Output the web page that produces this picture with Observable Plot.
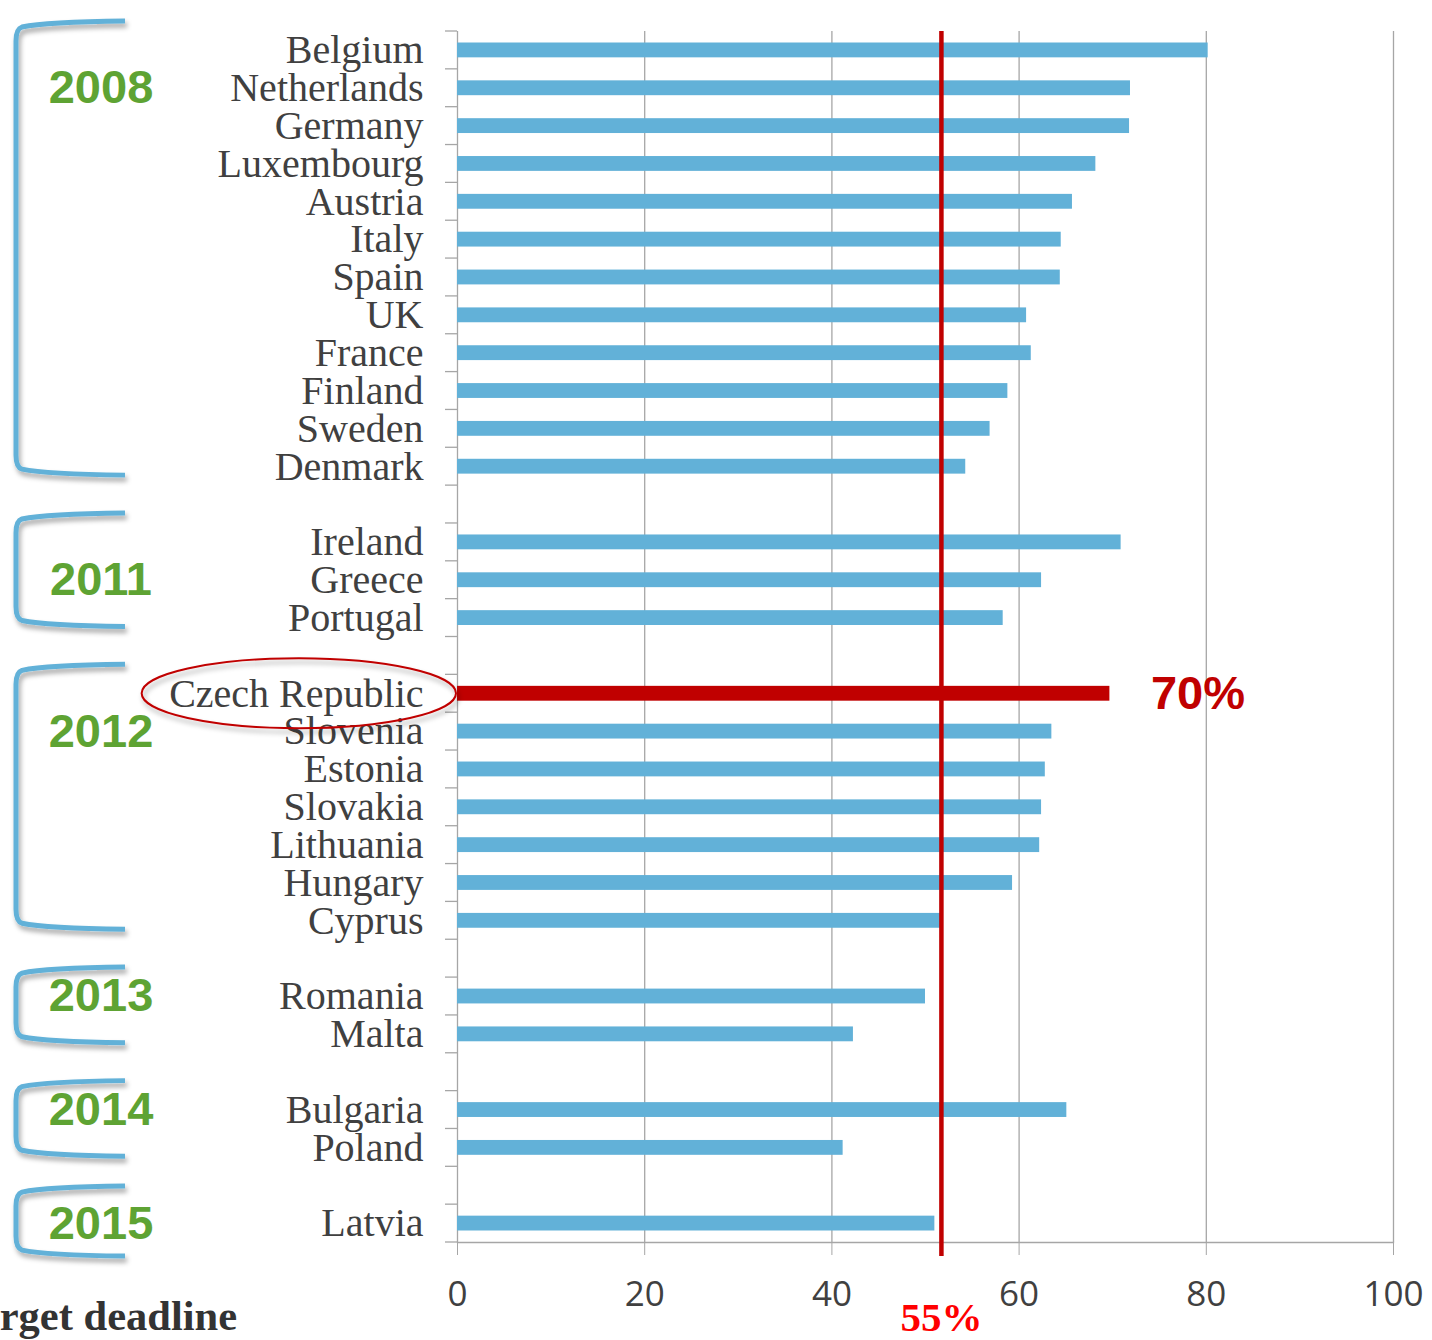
<!DOCTYPE html>
<html>
<head>
<meta charset="utf-8">
<script src="https://cdn.jsdelivr.net/npm/d3@7"></script>
<script src="https://cdn.jsdelivr.net/npm/@observablehq/plot@0.6"></script>
<style>
  html, body { margin: 0; padding: 0; background: #fff; }
  #chart { width: 1432px; height: 1340px; overflow: hidden; }
</style>
</head>
<body>
<div id="chart"></div>
<script>
// ---- Data ----
const countries = [
  "Belgium","Netherlands","Germany","Luxembourg","Austria","Italy","Spain","UK","France","Finland","Sweden","Denmark",
  "Ireland","Greece","Portugal",
  "Czech Republic","Slovenia","Estonia","Slovakia","Lithuania","Hungary","Cyprus",
  "Romania","Malta",
  "Bulgaria","Poland",
  "Latvia"
];
const shares = [
  80.2, 71.9, 71.8, 68.2, 65.7, 64.5, 64.4, 60.8, 61.3, 58.8, 56.9, 54.3,
  70.9, 62.4, 58.3,
  69.7, 63.5, 62.8, 62.4, 62.2, 59.3, 51.8,
  50.0, 42.3,
  65.1, 41.2,
  51.0
];
const deadlines = [
  2008,2008,2008,2008,2008,2008,2008,2008,2008,2008,2008,2008,
  2011,2011,2011,
  2012,2012,2012,2012,2012,2012,2012,
  2013,2013,
  2014,2014,
  2015
];
const years = [2008, 2011, 2012, 2013, 2014, 2015];
const xTicks = [0, 20, 40, 60, 80, 100];
const highlightCountry = "Czech Republic";
const highlightLabel = "70%";
const targetValue = 51.7;
const targetLabel = "55%";
const footLabel = "Target deadline";

// ---- Build table and row slots (blank row between deadline groups) ----
const data = countries.map((c, i) => ({country: c, share: shares[i], year: deadlines[i]}));
const slots = [];
years.forEach((yr, gi) => {
  data.filter(d => d.year === yr).forEach(d => slots.push(d.country));
  if (gi < years.length - 1) slots.push("gap-" + yr);
});

const blue = "#62B1D8";
const red = "#C00000";
const grey = "#a6a6a6";
const textGrey = "#404040";

const chart = Plot.plot({
  width: 1432,
  height: 1340,
  marginLeft: 457,
  marginRight: 39,
  marginTop: 31,
  marginBottom: 98,
  style: {background: "#fff"},
  x: {domain: [0, 100]},
  y: {domain: slots, padding: 0, round: false},
  marks: [
    Plot.gridX(xTicks, {stroke: grey, strokeOpacity: 1, strokeWidth: 1.3}),
    Plot.frame({anchor: "bottom", stroke: grey, strokeWidth: 1.3}),
    Plot.barX(data, {
      y: "country", x: "share",
      fill: d => d.country === highlightCountry ? red : blue,
      insetTop: 11.5, insetBottom: 11.5
    }),
    Plot.ruleX([targetValue], {stroke: red, strokeWidth: 4.5, insetBottom: -14}),
    Plot.text(data.filter(d => d.country === highlightCountry), {
      x: "share", y: "country", text: () => highlightLabel,
      dx: 41, textAnchor: "start", fill: red,
      fontSize: 47, fontWeight: "bold", fontFamily: "Liberation Sans, Arial, sans-serif"
    }),
    Plot.text([targetValue], {
      x: d => d, frameAnchor: "bottom", text: () => targetLabel,
      dy: 88, fill: "#FF0000", lineAnchor: "bottom",
      fontSize: 41, fontWeight: "bold", fontFamily: "Liberation Serif, Times New Roman, serif"
    }),
    Plot.axisX({
      ticks: xTicks, tickSize: 13, tickPadding: 26, stroke: grey,
      color: textGrey, fontSize: 35, fontFamily: "Open Sans, sans-serif", label: null
    }),
    Plot.axisY({
      tickSize: 0, tickPadding: 34, color: textGrey,
      fontSize: 40, fontFamily: "Liberation Serif, Times New Roman, serif",
      tickFormat: d => d.startsWith("gap-") ? "" : d, label: null
    })
  ]
});

document.getElementById("chart").appendChild(chart);

// ---- Annotations derived from the scales ----
const svg = d3.select(chart);
const yS = chart.scale("y");
const step = yS.step ?? yS.bandwidth;
const yTop = Math.min(...yS.range);
const left = 457;

const defs = svg.append("defs");
const f = defs.append("filter").attr("id", "shadow").attr("x", "-20%").attr("y", "-20%").attr("width", "140%").attr("height", "140%");
f.append("feDropShadow").attr("dx", 2).attr("dy", 4).attr("stdDeviation", 2.5)
  .attr("flood-color", "#000").attr("flood-opacity", 0.35);

// boundary ticks on the category axis
const ann = svg.append("g");
for (let i = 0; i <= slots.length; i++) {
  const yy = yTop + i * step;
  ann.append("line").attr("x1", left - 12).attr("x2", left).attr("y1", yy).attr("y2", yy)
    .attr("stroke", grey).attr("stroke-width", 1.3);
}

// year brackets
years.forEach(yr => {
  const rows = data.filter(d => d.year === yr).map(d => d.country);
  let top = yS.apply(rows[0]) - 10;
  let bot = yS.apply(rows[rows.length - 1]) + step - 10;
  if (bot - top < 70) { const c = (top + bot) / 2 + 8; top = c - 35; bot = c + 35; }
  const xl = 16, xr = 125;
  const p = `M${xr},${top} Q${xl + 30},${top + 1} ${xl + 6},${top + 6} Q${xl},${top + 8} ${xl},${top + 20}
             L${xl},${bot - 20} Q${xl},${bot - 8} ${xl + 6},${bot - 6} Q${xl + 30},${bot - 1} ${xr},${bot}`;
  ann.append("path").attr("d", p).attr("fill", "none").attr("stroke", blue)
    .attr("stroke-width", 5).attr("filter", "url(#shadow)");
  const anchorRow = rows.length > 2 ? rows[1] : rows[0];
  const ly = yS.apply(anchorRow) + step / 2 + 3;
  ann.append("text").attr("x", 101).attr("y", ly).attr("text-anchor", "middle")
    .attr("dominant-baseline", "middle")
    .attr("font-family", "Liberation Sans, Arial, sans-serif").attr("font-weight", "bold")
    .attr("font-size", 47).attr("fill", "#5EA333").text(yr);
});

// ellipse around highlighted label
const hl = svg.selectAll("text").filter(function() { return this.textContent === highlightCountry; }).node();
if (hl) {
  const bb = hl.getBBox();
  const rightEdge = left - 34;
  const cx = rightEdge - bb.width / 2 + 3;
  const cy = yS.apply(highlightCountry) + step / 2;
  ann.append("ellipse").attr("cx", cx).attr("cy", cy).attr("rx", bb.width / 2 + 30).attr("ry", 35)
    .attr("fill", "none").attr("stroke", red).attr("stroke-width", 2).attr("filter", "url(#shadow)");
}

// footer label (cropped at left edge as in reference)
ann.append("text").attr("x", 237).attr("y", 1330).attr("text-anchor", "end")
  .attr("font-family", "Liberation Serif, Times New Roman, serif").attr("font-weight", "bold")
  .attr("font-size", 42.5).attr("fill", "#333").text(footLabel);
</script>
</body>
</html>
